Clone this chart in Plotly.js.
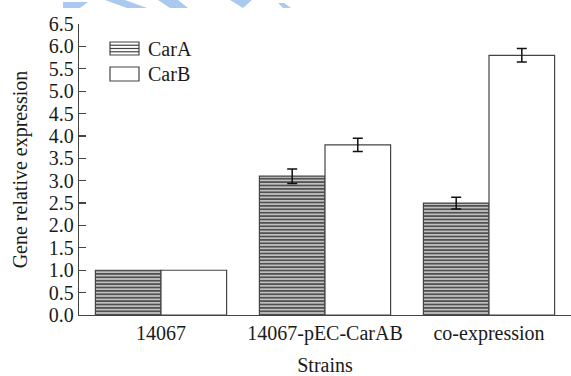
<!DOCTYPE html>
<html>
<head>
<meta charset="utf-8">
<script src="https://cdn.plot.ly/plotly-3.0.1.min.js"></script>
<style>html,body{margin:0;padding:0;background:#fff;}#chart{width:571px;height:376px;}</style>
</head>
<body>
<div id="chart"></div>
<script>
const categories = ["14067", "14067-pEC-CarAB", "co-expression"];
const carA = [1.0, 3.1, 2.5];
const carAErr = [NaN, 0.16, 0.13];
const carB = [1.0, 3.8, 5.8];
const carBErr = [NaN, 0.15, 0.15];
const yTicks = [0, 0.5, 1, 1.5, 2, 2.5, 3, 3.5, 4, 4.5, 5, 5.5, 6, 6.5];
const seriesNames = ["CarA", "CarB"];

const font = "Liberation Serif, Times New Roman, serif";
const edge = "#444";
const txt = "#1a1a1a";
const FS = 20;

// page geometry (pixels) -> paper coordinates helpers
const M = {l: 79, r: 0, t: 24, b: 61}, W = 571, H = 376;
const pw = W - M.l - M.r, ph = H - M.t - M.b;
const px = x => (x - M.l) / pw;
const py = y => (H - M.b - y) / ph;

const traces = [
  {
    type: "bar", name: seriesNames[0], x: categories, y: carA,
    marker: {
      color: "#c0c0c0",
      pattern: {shape: "-", fgcolor: "#444", bgcolor: "#c0c0c0", size: 3.4, solidity: 0.45},
      line: {color: edge, width: 1.2}
    },
    error_y: {type: "data", array: carAErr, visible: true, color: "#111", thickness: 1.5, width: 5}
  },
  {
    type: "bar", name: seriesNames[1], x: categories, y: carB,
    marker: {color: "#ffffff", line: {color: edge, width: 1.2}},
    error_y: {type: "data", array: carBErr, visible: true, color: "#111", thickness: 1.5, width: 5}
  }
];

// custom legend (decoration, paper coordinates)
const shapes = [];
const annotations = [];
const legRows = [{y0: 42, y1: 55, hatch: true}, {y0: 67, y1: 81, hatch: false}];
legRows.forEach((r, i) => {
  shapes.push({type: "rect", xref: "paper", yref: "paper", x0: px(110), x1: px(139), y0: py(r.y1), y1: py(r.y0),
               line: {color: edge, width: 1.2}, fillcolor: "#fff"});
  if (r.hatch) {
    [1, 2, 3].forEach(k => {
      const yy = r.y0 + (r.y1 - r.y0) * k / 4;
      shapes.push({type: "line", xref: "paper", yref: "paper", x0: px(110), x1: px(139), y0: py(yy), y1: py(yy),
                   line: {color: edge, width: 1.2}});
    });
  }
  annotations.push({xref: "paper", yref: "paper", x: px(146), y: py((r.y0 + r.y1) / 2), xanchor: "left", yanchor: "middle",
                    text: seriesNames[i], showarrow: false, font: {family: font, size: FS, color: txt}});
});

// faint watermark stripes at the top (decoration)
const wm = [
  [[63,2],[88,2],[80,8],[63,8]],
  [[105,0],[125,0],[147,8],[127,8]],
  [[158,0],[178,0],[188,8],[170,8]],
  [[230,0],[252,0],[243,8]],
  [[278,3],[284,3],[291,8],[283,8]]
];
wm.forEach(p => {
  const path = "M" + p.map(q => px(q[0]) + "," + py(q[1])).join(" L") + " Z";
  shapes.push({type: "path", xref: "paper", yref: "paper", path: path, line: {width: 0}, fillcolor: "#a9c9ee", layer: "below"});
});

const layout = {
  width: W, height: H,
  margin: M,
  paper_bgcolor: "#fff", plot_bgcolor: "#fff",
  barmode: "group", bargap: 0.2, bargroupgap: 0,
  font: {family: font, size: FS, color: txt},
  showlegend: false,
  shapes: shapes,
  annotations: annotations,
  xaxis: {
    type: "category", range: [-0.5, 2.5],
    showline: true, linecolor: edge, linewidth: 1.2,
    ticks: "", showgrid: false, zeroline: false,
    ticklabelstandoff: 0,
    tickfont: {family: font, size: FS, color: txt},
    title: {text: "Strains", font: {family: font, size: FS, color: txt}, standoff: 17}
  },
  yaxis: {
    range: [0, 6.5], tickvals: yTicks, tickformat: ".1f",
    showline: true, linecolor: edge, linewidth: 1.2,
    ticks: "inside", ticklen: 7, tickcolor: edge, tickwidth: 1.2,
    showgrid: false, zeroline: false,
    tickfont: {family: font, size: FS, color: txt},
    title: {text: "Gene relative expression", font: {family: font, size: FS, color: txt}, standoff: 15}
  }
};

Plotly.newPlot("chart", traces, layout, {displayModeBar: false, staticPlot: true});
</script>
</body>
</html>
